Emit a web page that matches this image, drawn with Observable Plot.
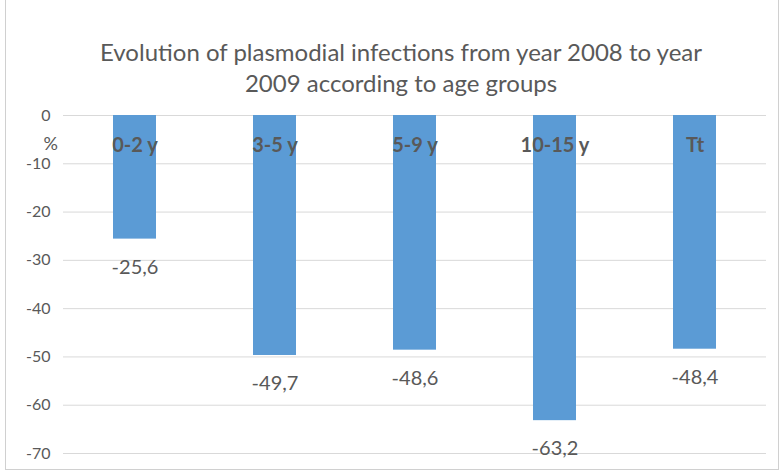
<!DOCTYPE html>
<html><head><meta charset="utf-8">
<script src="https://cdn.jsdelivr.net/npm/d3@7"></script>
<script src="https://cdn.jsdelivr.net/npm/@observablehq/plot@0.6"></script>
<style>
body{margin:0;background:#fff;}
#chart{position:relative;width:780px;height:472px;}
#frame{position:absolute;left:5px;top:-2px;width:772px;height:470px;border:1px solid #d0d0d0;pointer-events:none;}
</style>
</head><body>
<div id="chart"><div id="frame"></div></div>
<script>
const categories = ["0-2 y", "3-5 y", "5-9 y", "10-15 y", "Tt"];
const values = [-25.6, -49.7, -48.6, -63.2, -48.4];
const yTicks = [0, -10, -20, -30, -40, -50, -60, -70];
const titleLines = ["Evolution of plasmodial infections from year 2008 to year", "2009 according to age groups"];

const data = categories.map((c, i) => ({cat: c, v: values[i]}));
const font = "Lato, sans-serif";
const grey = "#595959";

const plot = Plot.plot({
  width: 780, height: 472,
  marginTop: 115, marginBottom: 19, marginLeft: 63, marginRight: 14,
  style: {fontFamily: font, color: grey, background: "transparent"},
  x: {domain: categories, paddingInner: 0.69, paddingOuter: 0.345, axis: null},
  y: {domain: [-70, 0], label: null},
  marks: [
    Plot.gridY(yTicks, {stroke: "#d9d9d9", strokeOpacity: 1, strokeWidth: 1}),
    Plot.axisY(yTicks, {tickSize: 0, tickPadding: 13, fontSize: 16, fill: grey, label: null,
      tickFormat: d => String(d)}),
    Plot.barY(data, {x: "cat", y: "v", fill: "#5b9bd5"}),
    Plot.text(data, {x: "cat", y: () => 0, text: "cat", dy: 30, fontWeight: "bold", fontSize: 20, fill: grey}),
    Plot.text(data, {x: "cat", y: "v", text: d => String(d.v).replace(".", ","), dy: 28, fontSize: 20, fill: grey}),
    Plot.text(["%"], {frameAnchor: "top-left", dx: -20, dy: 22, fontSize: 18, fill: grey}),
    Plot.text([titleLines[0]], {frameAnchor: "top", dx: -14, dy: -72, fontSize: 24, fill: grey}),
    Plot.text([titleLines[1]], {frameAnchor: "top", dx: -14, dy: -41, fontSize: 24, fill: grey})
  ]
});
document.getElementById("chart").prepend(plot);
</script>
</body></html>
